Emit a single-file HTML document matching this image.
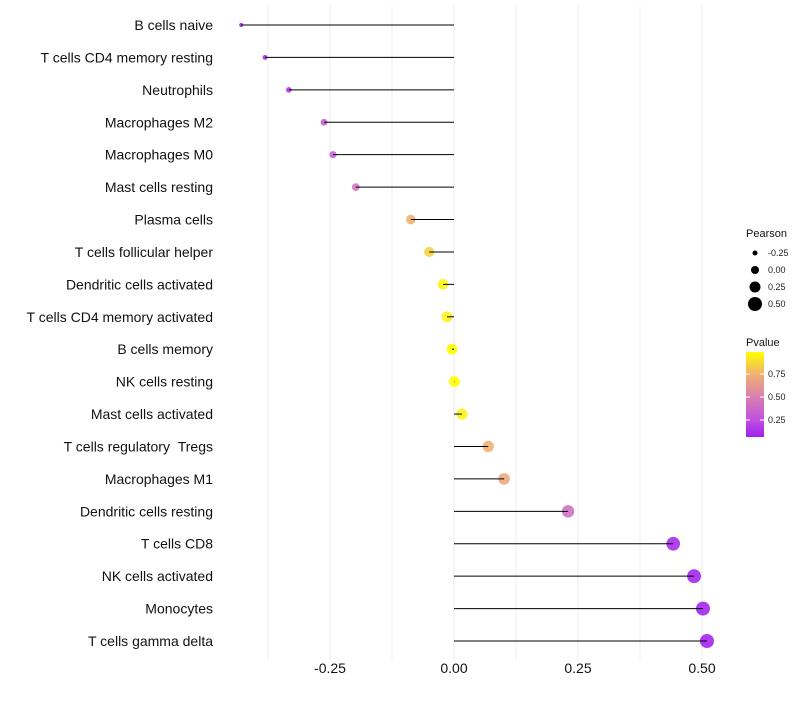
<!DOCTYPE html>
<html><head><meta charset="utf-8"><style>
body{margin:0;background:#fff;font-family:"Liberation Sans",sans-serif;}
svg text{font-family:"Liberation Sans",sans-serif;}
</style></head><body>
<svg id="c" width="800" height="700"></svg>
<script>
const categories=["B cells naive","T cells CD4 memory resting","Neutrophils","Macrophages M2","Macrophages M0","Mast cells resting","Plasma cells","T cells follicular helper","Dendritic cells activated","T cells CD4 memory activated","B cells memory","NK cells resting","Mast cells activated","T cells regulatory \u00a0Tregs","Macrophages M1","Dendritic cells resting","T cells CD8","NK cells activated","Monocytes","T cells gamma delta"];
const pearson=[-0.429,-0.381,-0.333,-0.262,-0.244,-0.198,-0.087,-0.050,-0.022,-0.014,-0.004,0.001,0.016,0.069,0.101,0.230,0.442,0.484,0.502,0.510];
const pvalue=[0.05,0.1,0.15,0.3,0.32,0.45,0.75,0.85,0.95,0.95,0.99,1.0,0.95,0.75,0.7,0.4,0.1,0.05,0.03,0.02];
const xTicks=[-0.25,0,0.25,0.5];
const xTickLabels=["-0.25","0.00","0.25","0.50"];
const minorTicks=[-0.375,-0.125,0.125,0.375];
const sizeLegend=[-0.25,0,0.25,0.5];
const sizeLegendLabels=["-0.25","0.00","0.25","0.50"];
const colorLegend=[0.25,0.5,0.75];
const colorLegendLabels=["0.25","0.50","0.75"];

const NS="http://www.w3.org/2000/svg";
const svg=document.getElementById('c');
function mk(t,a,p){const e=document.createElementNS(NS,t);for(const k in a)e.setAttribute(k,a[k]);(p||svg).appendChild(e);return e;}
const x=v=>454+v*496;
const y=i=>25+i*(616/19);
const rad=v=>v>=0?5.5+3*v:Math.max(1.5,5.5+8*v);
const stops=[[0.065,[160,32,240]],[0.25,[192,80,224]],[0.5,[216,128,176]],[0.75,[240,176,112]],[0.99,[255,255,0]]];
function col(p){p=Math.max(stops[0][0],Math.min(stops[4][0],p));for(let i=0;i<4;i++){const[a,ca]=stops[i],[b,cb]=stops[i+1];if(p<=b){const t=(p-a)/(b-a);return`rgb(${ca.map((c,j)=>Math.round(c+(cb[j]-c)*t)).join(',')})`;}}return'rgb(255,255,0)';}

minorTicks.forEach(v=>{const l=mk('line',{x1:x(v),x2:x(v),y1:5,y2:660,stroke:'#f2f2f2','stroke-width':1});

});
xTicks.forEach((v,i)=>{const l=mk('line',{x1:x(v),x2:x(v),y1:5,y2:660,stroke:'#ebebeb','stroke-width':1});


const t=mk('text',{x:x(v),y:673,'text-anchor':'middle','font-size':14,fill:'#111'});t.textContent=xTickLabels[i];

});

categories.forEach((c,i)=>{
const t=mk('text',{x:213,y:y(i)+5,'text-anchor':'end','font-size':14,fill:'#111'});t.textContent=c;


const d=mk('circle',{cx:x(pearson[i]),cy:y(i),r:rad(pearson[i]),fill:col(pvalue[i]),'fill-opacity':0.88});


const l=mk('line',{x1:x(pearson[i]),x2:x(0),y1:y(i),y2:y(i),stroke:'#000','stroke-width':1});


});

const g=mk('g',{});


const tp=mk('text',{x:746,y:237,'font-size':11,fill:'#111'},g);tp.textContent='Pearson';


sizeLegend.forEach((v,i)=>{const cy=253+i*17;
const d=mk('circle',{cx:755,cy:cy,r:4+v*6,fill:'#000'},g);


const t=mk('text',{x:768,y:cy+3,'font-size':9,fill:'#222'},g);t.textContent=sizeLegendLabels[i];

});
const tv=mk('text',{x:746,y:346,'font-size':11,fill:'#111'},g);tv.textContent='Pvalue';


const defs=mk('defs',{});const lg=mk('linearGradient',{id:'pg',x1:0,y1:1,x2:0,y2:0},defs);
stops.forEach(s=>mk('stop',{offset:((s[0]-0.065)/(0.99-0.065)),'stop-color':`rgb(${s[1].join(',')})`},lg));
const bar=mk('rect',{x:746,y:352,width:18,height:85,fill:'url(#pg)'},g);


colorLegend.forEach((v,i)=>{const cy=352+(0.99-v)/(0.99-0.065)*85;
mk('line',{x1:746,x2:750,y1:cy,y2:cy,stroke:'#fff'},g);mk('line',{x1:760,x2:764,y1:cy,y2:cy,stroke:'#fff'},g);
const t=mk('text',{x:768,y:cy+3,'font-size':9,fill:'#222'},g);t.textContent=colorLegendLabels[i];

});
</script>
</body></html>
